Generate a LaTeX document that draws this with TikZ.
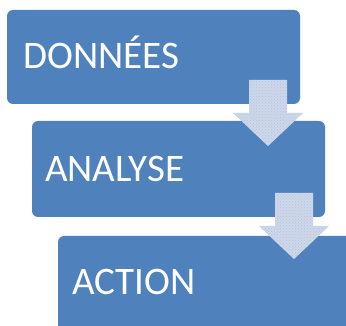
\documentclass[tikz,border=0pt]{standalone}
\usepackage{fontspec}
\setmainfont{Carlito}
\usetikzlibrary{patterns}
\definecolor{boxblue}{HTML}{4F81BD}
\definecolor{arrfill}{HTML}{CDD7E9}
\definecolor{arrdot}{HTML}{B4C3DE}
\tikzset{
  stepbox/.style={fill=boxblue, draw=none, rounded corners=6pt},
  steplabel/.style={text=white, font=\fontsize{39}{40}\selectfont, anchor=base west, inner sep=0pt},
  blockarrow/.style={fill=arrfill, draw=none},
  arrowdots/.style={pattern=crosshatch dots, pattern color=arrdot, draw=none}
}
\begin{document}
\begin{tikzpicture}[x=1pt,y=-1pt]
\useasboundingbox (0,0) rectangle (346,326);
\fill[white] (0,0) rectangle (346,326);
% boxes
\fill[stepbox] (7,10) rectangle (300,104);
\fill[stepbox] (32,121) rectangle (325,217);
\begin{scope}
\clip (0,0) rectangle (346,326);
\fill[stepbox] (58,236) rectangle (360,340);
\end{scope}
% labels
\node[steplabel] (donnees) at (23,69) {DONNÉES};
\node[steplabel] (analyse) at (45,182) {ANALYSE};
\node[steplabel] (action) at (72,295) {ACTION};
% arrows
\coordinate (a1s) at (268,80);
\coordinate (a1t) at (268,146);
\coordinate (a2s) at (294,193);
\coordinate (a2t) at (294,259);
\foreach \s/\t in {a1s/a1t, a2s/a2t}{
  \path[blockarrow] ([xshift=-19pt]\s) -- ([xshift=19pt]\s) -- ([xshift=19pt,yshift=33pt]\t) -- ([xshift=35pt,yshift=33pt]\t) -- (\t) -- ([xshift=-35pt,yshift=33pt]\t) -- ([xshift=-19pt,yshift=33pt]\t) -- cycle;
  \path[arrowdots] ([xshift=-19pt]\s) -- ([xshift=19pt]\s) -- ([xshift=19pt,yshift=33pt]\t) -- ([xshift=35pt,yshift=33pt]\t) -- (\t) -- ([xshift=-35pt,yshift=33pt]\t) -- ([xshift=-19pt,yshift=33pt]\t) -- cycle;
}
\end{tikzpicture}
\end{document}
